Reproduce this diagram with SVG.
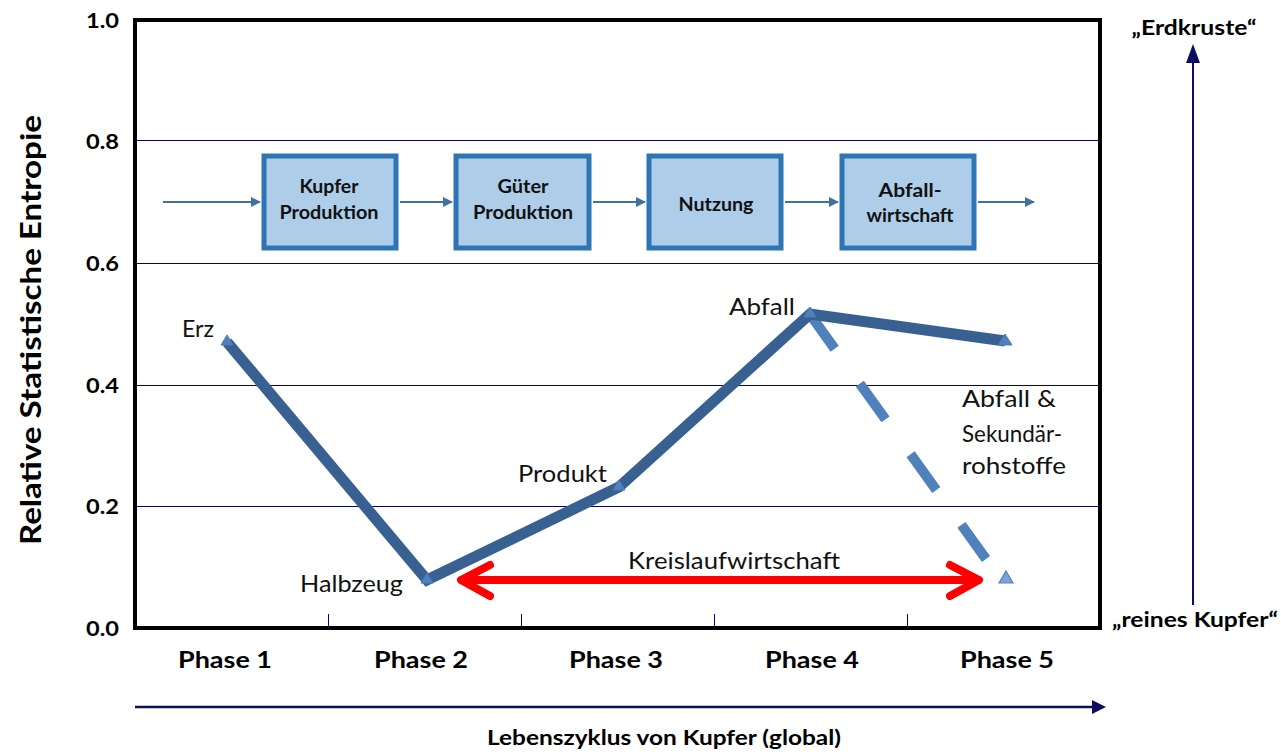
<svg xmlns="http://www.w3.org/2000/svg" width="1281" height="752" viewBox="0 0 1281 752">
<defs>
<style>
.ax{font-family:Lato,"Liberation Sans",sans-serif;font-weight:bold;fill:#000}
.lbl{font-family:Lato,"Liberation Sans",sans-serif;font-size:23.5px;fill:#111}
.grid{stroke:#000080;stroke-width:1}
.box{fill:#adcde9;stroke:#2e75b6;stroke-width:5}
.btx{font-family:Lato,"Liberation Sans",sans-serif;font-weight:bold;font-size:18px;fill:#111;text-anchor:middle}
.flow{stroke:#41719c;stroke-width:2;fill:none}
.tri{fill:#4f81bd;stroke:#4a7ab5;stroke-width:1}
</style>
<marker id="fa" viewBox="0 0 10 10" refX="9" refY="5" markerWidth="5" markerHeight="5" orient="auto" markerUnits="strokeWidth"><path d="M0,0 L10,5 L0,10 z" fill="#41719c"/></marker>
</defs>
<rect width="1281" height="752" fill="#fff"/>
<g id="gridlines">
<line class="grid" x1="135" y1="140.5" x2="1100" y2="140.5" stroke="#50509a"/>
<line class="grid" x1="135" y1="263.5" x2="1100" y2="263.5"/>
<line class="grid" x1="135" y1="385.5" x2="1100" y2="385.5"/>
<line class="grid" x1="135" y1="506.5" x2="1100" y2="506.5"/>
<line class="grid" x1="328.5" y1="614" x2="328.5" y2="628"/>
<line class="grid" x1="521.5" y1="614" x2="521.5" y2="628"/>
<line class="grid" x1="714.5" y1="614" x2="714.5" y2="628"/>
<line class="grid" x1="907.5" y1="614" x2="907.5" y2="628"/>
</g>
<rect id="frame" x="135" y="20" width="965" height="608" fill="none" stroke="#000" stroke-width="4"/>
<g id="yaxis" class="ax" font-size="21" text-anchor="end">
<text x="119" y="28" textLength="33" lengthAdjust="spacingAndGlyphs">1.0</text>
<text x="119" y="149" textLength="33" lengthAdjust="spacingAndGlyphs">0.8</text>
<text x="119" y="271" textLength="33" lengthAdjust="spacingAndGlyphs">0.6</text>
<text x="119" y="393" textLength="33" lengthAdjust="spacingAndGlyphs">0.4</text>
<text x="119" y="514" textLength="33" lengthAdjust="spacingAndGlyphs">0.2</text>
<text x="119" y="636" textLength="33" lengthAdjust="spacingAndGlyphs">0.0</text>
</g>
<text id="ytitle" class="ax" font-size="29" text-anchor="middle" transform="translate(41,330) rotate(-90)" textLength="430" lengthAdjust="spacingAndGlyphs">Relative Statistische Entropie</text>
<g id="phases" class="ax" font-size="22.5" text-anchor="middle">
<text x="225" y="668" textLength="94" lengthAdjust="spacingAndGlyphs">Phase 1</text>
<text x="421" y="668" textLength="94" lengthAdjust="spacingAndGlyphs">Phase 2</text>
<text x="616" y="668" textLength="94" lengthAdjust="spacingAndGlyphs">Phase 3</text>
<text x="812" y="668" textLength="94" lengthAdjust="spacingAndGlyphs">Phase 4</text>
<text x="1007" y="668" textLength="94" lengthAdjust="spacingAndGlyphs">Phase 5</text>
</g>
<g id="connectors">
<line class="flow" x1="163" y1="202" x2="260" y2="202" marker-end="url(#fa)"/>
<line class="flow" x1="400" y1="202" x2="452" y2="202" marker-end="url(#fa)"/>
<line class="flow" x1="593" y1="202" x2="645" y2="202" marker-end="url(#fa)"/>
<line class="flow" x1="785" y1="202" x2="838" y2="202" marker-end="url(#fa)"/>
<line class="flow" x1="978" y1="202" x2="1034" y2="202" marker-end="url(#fa)"/>
</g>
<g id="node-kupfer"><rect class="box" x="264" y="156" width="132" height="92"/><text class="btx" x="329" y="193" textLength="59" lengthAdjust="spacingAndGlyphs">Kupfer</text><text class="btx" x="329" y="219" textLength="99" lengthAdjust="spacingAndGlyphs">Produktion</text></g>
<g id="node-gueter"><rect class="box" x="456" y="156" width="133" height="92"/><text class="btx" x="523" y="193" textLength="51" lengthAdjust="spacingAndGlyphs">Güter</text><text class="btx" x="523" y="219" textLength="100" lengthAdjust="spacingAndGlyphs">Produktion</text></g>
<g id="node-nutzung"><rect class="box" x="649" y="156" width="132" height="92"/><text class="btx" x="716" y="211" textLength="75" lengthAdjust="spacingAndGlyphs">Nutzung</text></g>
<g id="node-abfall"><rect class="box" x="842" y="156" width="132" height="92"/><text class="btx" x="910" y="197" textLength="63" lengthAdjust="spacingAndGlyphs">Abfall-</text><text class="btx" x="910" y="222" textLength="87" lengthAdjust="spacingAndGlyphs">wirtschaft</text></g>
<g id="series">
<line x1="809" y1="313" x2="986" y2="559" stroke="#4f81bd" stroke-width="10" stroke-dasharray="44 43"/>
<polyline points="227,342 427,580 619,487 810,314 1005,341" fill="none" stroke="#386192" stroke-width="11" stroke-linejoin="miter"/>
<path class="tri" d="M227,335 l6,10 h-12 z"/>
<path class="tri" d="M427,573 l6,10 h-12 z"/>
<path class="tri" d="M619,480 l6,10 h-12 z"/>
<path class="tri" d="M810,307 l6,10 h-12 z"/>
<path class="tri" d="M1005,334 l7,11 h-14 z"/>
<path d="M1006,571 l7,12 h-14 z" fill="#7aa3d6" stroke="#4f81bd" stroke-width="1.2"/>
</g>
<g id="kreislauf">
<g fill="none" stroke="#ff0000" stroke-width="8" stroke-linecap="round" stroke-linejoin="round">
<line x1="462" y1="580" x2="978" y2="580"/>
<polyline points="490,565 461,580 490,596"/>
<polyline points="950,565 979,580 950,596"/>
</g>
<text class="lbl" x="734" y="569" text-anchor="middle" textLength="212" lengthAdjust="spacingAndGlyphs">Kreislaufwirtschaft</text>
</g>
<g id="labels" class="lbl">
<text x="182" y="337" textLength="32" lengthAdjust="spacingAndGlyphs">Erz</text>
<text x="300" y="592" textLength="103" lengthAdjust="spacingAndGlyphs">Halbzeug</text>
<text x="518" y="482" textLength="89" lengthAdjust="spacingAndGlyphs">Produkt</text>
<text x="729" y="315" textLength="66" lengthAdjust="spacingAndGlyphs">Abfall</text>
<text x="962" y="407" textLength="94" lengthAdjust="spacingAndGlyphs">Abfall &amp;</text>
<text x="962" y="442" textLength="100" lengthAdjust="spacingAndGlyphs">Sekundär-</text>
<text x="962" y="474" textLength="104" lengthAdjust="spacingAndGlyphs">rohstoffe</text>
</g>
<g id="right-axis">
<line x1="1193" y1="605" x2="1193" y2="58" stroke="#0d0d5f" stroke-width="2"/>
<path d="M1193,44 l7,19 h-14 z" fill="#0d0d5f"/>
<text class="ax" font-size="20" x="1194" y="35" text-anchor="middle" textLength="125" lengthAdjust="spacingAndGlyphs">„Erdkruste“</text>
<text class="ax" font-size="21" x="1195" y="627" text-anchor="middle" textLength="166" lengthAdjust="spacingAndGlyphs">„reines Kupfer“</text>
</g>
<g id="bottom-axis">
<line x1="135" y1="707" x2="1092" y2="707" stroke="#0d0d5f" stroke-width="2.5"/>
<path d="M1106,707 l-14,-7 v14 z" fill="#0d0d5f"/>
<text class="ax" font-size="21" x="664" y="745" text-anchor="middle" textLength="354" lengthAdjust="spacingAndGlyphs">Lebenszyklus von Kupfer (global)</text>
</g>
</svg>
